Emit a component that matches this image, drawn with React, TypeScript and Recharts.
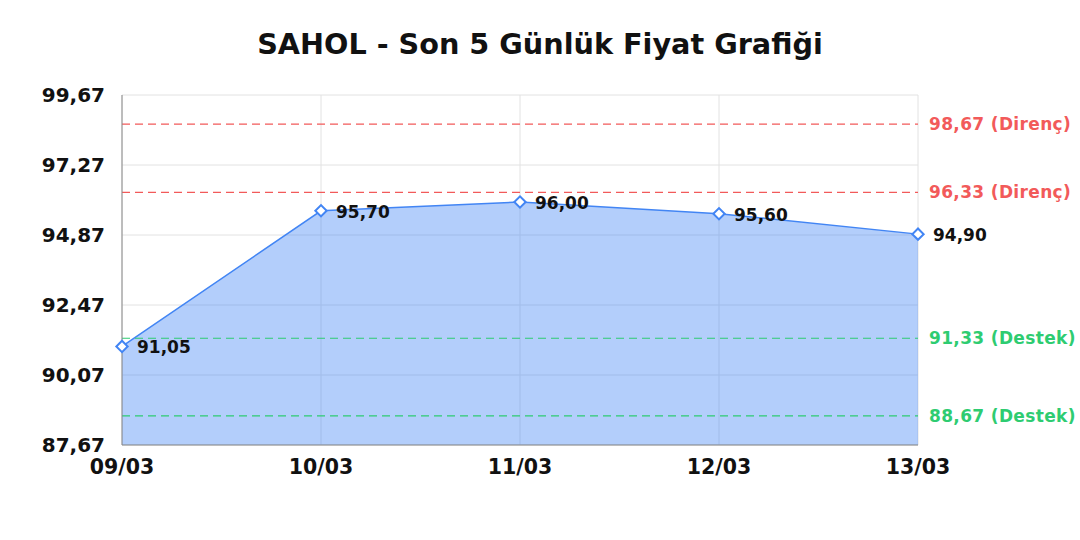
import React from "react";
import {
  ComposedChart,
  Area,
  XAxis,
  YAxis,
  CartesianGrid,
  ReferenceLine,
  LabelList,
} from "recharts";

const dates = ["09/03", "10/03", "11/03", "12/03", "13/03"];
const prices = [91.05, 95.7, 96.0, 95.6, 94.9];
const yTicks = [87.67, 90.07, 92.47, 94.87, 97.27, 99.67];
const resistance = [98.67, 96.33];
const support = [91.33, 88.67];

const FONT = "'DejaVu Sans', sans-serif";
const BLUE = "#4285F4";
const RED = "#F25A5A";
const GREEN = "#2ECC71";

const fmt = (v: number) => v.toFixed(2).replace(".", ",");

const data = dates.map((d, i) => ({ date: d, price: prices[i] }));

const Diamond = (props: any) => {
  const { cx, cy } = props;
  if (cx == null || cy == null) return null;
  return (
    <rect
      x={cx - 4}
      y={cy - 4}
      width={8}
      height={8}
      fill="#fff"
      stroke={BLUE}
      strokeWidth={2}
      transform={`rotate(45 ${cx} ${cy})`}
    />
  );
};

const PriceLabel = (props: any) => {
  const { x, y, value } = props;
  return (
    <text
      x={x + 15}
      y={y + 2}
      dominantBaseline="middle"
      fontFamily={FONT}
      fontWeight="bold"
      fontSize={17}
      fill="#111"
    >
      {fmt(value)}
    </text>
  );
};

export default function App() {
  return (
    <div style={{ position: "absolute", left: 0, top: 0, width: 1080, height: 540, background: "#fff" }}>
      <div
        style={{
          position: "absolute",
          top: 30,
          left: 0,
          width: 1080,
          textAlign: "center",
          fontFamily: FONT,
          fontWeight: "bold",
          fontSize: 28.7,
          lineHeight: 1,
          color: "#111",
        }}
      >
        SAHOL - Son 5 Günlük Fiyat Grafiği
      </div>
      <ComposedChart
        width={1080}
        height={540}
        data={data}
        margin={{ top: 95, right: 162, bottom: 65, left: 0 }}
      >
        <CartesianGrid stroke="#e2e2e2" />
        <XAxis
          dataKey="date"
          stroke="#888"
          tickLine={false}
          tickMargin={8}
          height={30}
          tick={{ fontFamily: FONT, fontWeight: "bold", fontSize: 20.5, fill: "#111" }}
        />
        <YAxis
          type="number"
          domain={[87.67, 99.67]}
          ticks={yTicks}
          width={122}
          stroke="#888"
          tickLine={false}
          tickMargin={11}
          tickFormatter={fmt}
          tick={{ fontFamily: FONT, fontWeight: "bold", fontSize: 20, fill: "#111" }}
        />
        {resistance.map((r) => (
          <ReferenceLine
            key={"r" + r}
            y={r}
            stroke={RED}
            strokeDasharray="8 5"
            strokeWidth={1.2}
            label={{
              value: `${fmt(r)} (Direnç)`,
              position: "right",
              offset: 11,
              fill: RED,
              fontFamily: FONT,
              fontWeight: "bold",
              fontSize: 17,
              letterSpacing: 0.35,
            }}
          />
        ))}
        {support.map((s) => (
          <ReferenceLine
            key={"s" + s}
            y={s}
            stroke={GREEN}
            strokeDasharray="8 5"
            strokeWidth={1.2}
            label={{
              value: `${fmt(s)} (Destek)`,
              position: "right",
              offset: 11,
              fill: GREEN,
              fontFamily: FONT,
              fontWeight: "bold",
              fontSize: 17,
              letterSpacing: 0.35,
            }}
          />
        ))}
        <Area
          type="linear"
          dataKey="price"
          stroke={BLUE}
          strokeWidth={1.5}
          fill={BLUE}
          fillOpacity={0.4}
          baseValue="dataMin"
          dot={<Diamond />}
          activeDot={false}
          isAnimationActive={false}
        >
          <LabelList dataKey="price" content={<PriceLabel />} />
        </Area>
      </ComposedChart>
    </div>
  );
}
